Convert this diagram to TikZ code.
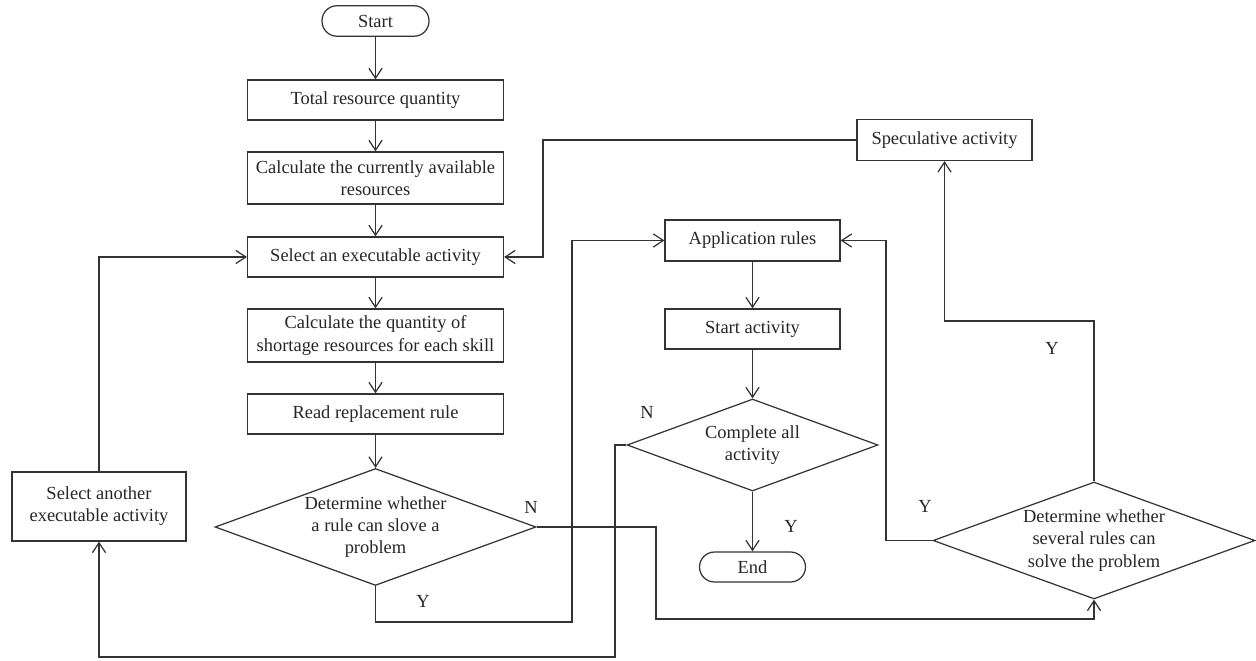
\documentclass[tikz,border=0pt]{standalone}
\usepackage{fontspec}
\setmainfont{Liberation Serif}
\usetikzlibrary{shapes.geometric,arrows.meta}
\begin{document}
\begin{tikzpicture}[x=0.02cm,y=-0.02cm,
  every node/.style={font=\fontsize{10.5}{12.6}\selectfont, text=black!85},
  box/.style={draw=black!80, line width=0.7pt, rectangle, align=center, inner sep=0pt, minimum width=5.12cm, minimum height=0.8cm},
  sbox/.style={box, minimum width=3.5cm, minimum height=0.82cm},
  pill/.style={draw=black!80, line width=0.7pt, rectangle, rounded corners=0.3cm, inner sep=0pt, minimum width=2.14cm, minimum height=0.61cm},
  dec/.style={draw=black!80, line width=0.7pt, diamond, aspect=2.74, inner sep=0pt, align=center},
  lbl/.style={inner sep=0pt},
  conn/.style={draw=black!80, line width=0.7pt, -{Straight Barb[length=5.7pt,width=7.5pt]}}
]
\useasboundingbox (0,0) rectangle (1256,661);

\node[pill] (start) at (375.5,21) {Start};
\node[box] (total) at (375.5,100) {Total resource quantity};
\node[box, minimum height=1.04cm] (avail) at (375.5,178) {Calculate the currently available\\resources};
\node[box] (select) at (375.5,257) {Select an executable activity};
\node[box, minimum height=1.06cm] (quant) at (375.5,335.5) {Calculate the quantity of\\shortage resources for each skill};
\node[box] (read) at (375.5,414) {Read replacement rule};
\node[dec, minimum width=6.42cm, minimum height=2.34cm] (d1) at (375.5,527) {Determine whether\\a rule can slove a\\problem};
\node[box, minimum width=3.48cm, minimum height=1.38cm] (another) at (99,506.5) {Select another\\executable activity};

\node[sbox] (spec) at (944.5,140) {Speculative activity};
\node[sbox] (app) at (752.5,240.5) {Application rules};
\node[sbox, minimum height=0.8cm] (startact) at (752.5,329) {Start activity};
\node[dec, aspect=2.73, minimum width=5.02cm, minimum height=1.84cm] (d2) at (752.5,445) {Complete all\\activity};
\node[pill, minimum width=2.12cm, minimum height=0.6cm] (end) at (752.5,567) {End};
\node[dec, minimum width=6.44cm, minimum height=2.34cm] (d3) at (1094,540.5) {Determine whether\\several rules can\\solve the problem};

\node[lbl] (n1) at (531,507) {N};
\node[lbl] (y1) at (423,601) {Y};
\node[lbl] (n2) at (647,412) {N};
\node[lbl] (y2) at (791,526) {Y};
\node[lbl] (y3) at (925,506) {Y};
\node[lbl] (y4) at (1052,348) {Y};

\draw[conn] (start) -- (total);
\draw[conn] (total) -- (avail);
\draw[conn] (avail) -- (select);
\draw[conn] (select) -- (quant);
\draw[conn] (quant) -- (read);
\draw[conn] (read) -- (d1);
\draw[conn] (app) -- (startact);
\draw[conn] (startact) -- (d2);
\draw[conn] (d2) -- (end);

\draw[conn] (d1.south) |- (572,622) |- (app.west);
\draw[conn] (d1.east) -| (656,619) -| (d3.south);
\draw[conn] (d2.west) -| (615,657) -| (another.south);
\draw[conn] (another.north) |- (select.west);
\draw[conn] (d3.west) -| (886,400) |- (app.east);
\draw[conn] (d3.north) |- (944.5,321) -- (spec.south);
\draw[conn] (spec.west) -| (543,200) |- (select.east);
\end{tikzpicture}
\end{document}
